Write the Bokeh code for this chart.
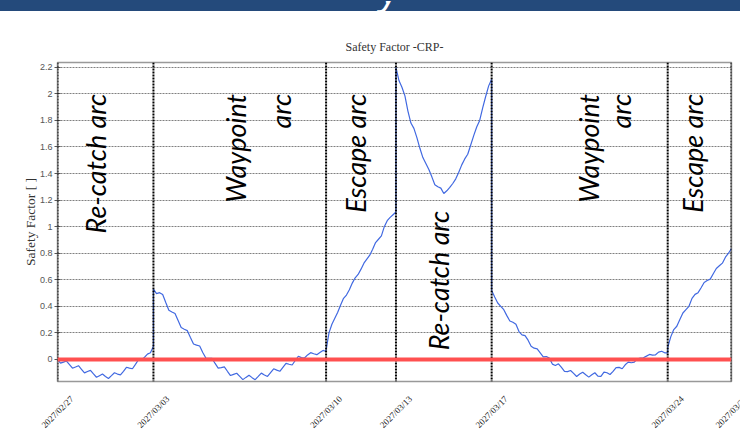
import numpy as np
from bokeh.plotting import figure
from bokeh.models import Range1d, FixedTicker, Span, Div
from bokeh.layouts import column
from bokeh.core.properties import value
from bokeh.embed import file_html
from bokeh.resources import INLINE

# ---------------- data ----------------
# arc boundaries, in days since 2027/02/27 00:00
arc_bounds = [0.0, 3.94, 11.03, 13.90, 17.83, 25.06, 27.68]
bound_labels = ["2027/02/27", "2027/03/03", "2027/03/10", "2027/03/13",
                "2027/03/17", "2027/03/24", "2027/03/26"]

y_ticks = [0, 0.2, 0.4, 0.6, 0.8, 1, 1.2, 1.4, 1.6, 1.8, 2, 2.2]
y_tick_labels = ["0", "0.2", "0.4", "0.6", "0.8", "1", "1.2", "1.4", "1.6", "1.8", "2", "2.2"]

# safety factor per arc (evenly sampled inside each arc)
sf_recatch_1 = [0.000, -0.028, -0.020, -0.012, -0.039, -0.066, -0.057, -0.047, -0.074, -0.101,
                -0.091, -0.082, -0.109, -0.134, -0.122, -0.110, -0.128, -0.143, -0.122, -0.100,
                -0.110, -0.116, -0.089, -0.059, -0.065, -0.070, -0.037, -0.002, 0.000, 0.015,
                0.040, 0.050, 0.100]
sf_waypoint_1 = [0.530, 0.496, 0.503, 0.489, 0.429, 0.371, 0.358, 0.346, 0.293, 0.240,
                 0.228, 0.217, 0.165, 0.116, 0.108, 0.101, 0.053, 0.011, 0.009, 0.008,
                 -0.030, -0.065, -0.061, -0.056, -0.089, -0.121, -0.112, -0.104, -0.128, -0.152,
                 -0.135, -0.119, -0.137, -0.152, -0.128, -0.103, -0.117, -0.128, -0.099, -0.070,
                 -0.080, -0.089, -0.059, -0.029, -0.036, -0.042, -0.008, 0.024, 0.014, 0.011,
                 0.034, 0.051, 0.043, 0.036, 0.052, 0.068, 0.060]
sf_escape_1 = [0.07, 0.20, 0.265, 0.31, 0.355, 0.41, 0.46, 0.485, 0.525, 0.575,
               0.615, 0.64, 0.68, 0.725, 0.755, 0.785, 0.83, 0.88, 0.905, 0.93,
               1.00, 1.045, 1.07, 1.09, 1.11]
sf_recatch_2 = [2.20, 2.10, 2.05, 1.985, 1.87, 1.78, 1.74, 1.67, 1.59, 1.52,
                1.475, 1.43, 1.375, 1.315, 1.30, 1.29, 1.25, 1.27, 1.295, 1.325,
                1.36, 1.41, 1.465, 1.51, 1.545, 1.615, 1.685, 1.75, 1.80, 1.895,
                1.98, 2.06, 2.11]
sf_waypoint_2 = [0.52, 0.47, 0.425, 0.40, 0.375, 0.33, 0.29, 0.28, 0.265, 0.21,
                 0.185, 0.18, 0.145, 0.10, 0.085, 0.08, 0.05, 0.02, 0.022, 0.01,
                 -0.035, -0.045, -0.033, -0.06, -0.09, -0.092, -0.083, -0.105, -0.128, -0.11,
                 -0.096, -0.115, -0.133, -0.115, -0.10, -0.125, -0.128, -0.095, -0.10, -0.113,
                 -0.09, -0.062, -0.06, -0.07, -0.04, -0.02, -0.025, -0.02, 0.005, 0.01,
                 0.013, 0.025, 0.038, 0.032, 0.035, 0.055, 0.062, 0.05, 0.05]
sf_escape_2 = [0.09, 0.17, 0.225, 0.25, 0.30, 0.35, 0.375, 0.40, 0.46, 0.49,
               0.503, 0.54, 0.58, 0.595, 0.605, 0.645, 0.685, 0.705, 0.725, 0.77,
               0.80, 0.835]

segments = [sf_recatch_1, sf_waypoint_1, sf_escape_1, sf_recatch_2, sf_waypoint_2, sf_escape_2]

arc_texts = ["Re-catch arc", "Waypoint", "arc", "Escape arc", "Re-catch arc", "Waypoint", "arc", "Escape arc"]
# annotation anchors (day, safety factor) - rotated text ends here
arc_text_x = [1.56, 7.31, 9.16, 12.22, 15.65, 21.81, 23.12, 26.08]
arc_text_y = [2.0, 2.0, 2.0, 2.0, 1.12, 2.0, 2.0, 2.0]

# ---------------- build ----------------
X_START, X_END = 0.0, 27.68
LEFT, RIGHT = 57, 9
W = 740
px_per_day = (W - LEFT - RIGHT) / (X_END - X_START)

xs, ys = [], []
for i, seg in enumerate(segments):
    xs.extend(np.linspace(arc_bounds[i], arc_bounds[i + 1], len(seg)).tolist())
    ys.extend(seg)

p = figure(width=W, height=372, output_backend="svg", toolbar_location=None,
           x_range=Range1d(X_START, X_END), y_range=Range1d(-0.166, 2.236),
           x_axis_type=None,
           min_border_left=LEFT, min_border_right=RIGHT, min_border_top=51, min_border_bottom=2,
           background_fill_color="white", border_fill_color="white")

p.title.text = "Safety Factor -CRP-"
p.title.align = "center"
p.title.text_font = "Liberation Serif"
p.title.text_font_size = "12px"
p.title.text_font_style = "normal"
p.title.text_color = "#333333"
p.title.standoff = 18

p.outline_line_color = "#999999"
p.outline_line_width = 1.5

p.ygrid.ticker = FixedTicker(ticks=y_ticks)
p.ygrid.grid_line_color = "#808080"
p.ygrid.grid_line_dash = "2 1"
p.ygrid.grid_line_width = 1

p.yaxis.ticker = FixedTicker(ticks=y_ticks)
p.yaxis.major_label_overrides = dict(zip(y_ticks, y_tick_labels))
p.yaxis.major_label_text_font = "Liberation Sans"
p.yaxis.major_label_text_font_size = "9px"
p.yaxis.major_label_text_color = "#555555"
p.yaxis.major_label_standoff = 2
p.yaxis.major_tick_in = 3
p.yaxis.major_tick_out = 3
p.yaxis.major_tick_line_color = "#555555"
p.yaxis.minor_tick_line_color = None
p.yaxis.axis_line_color = None
p.yaxis.axis_label = "Safety Factor [ ]"
p.yaxis.axis_label_text_font = "Liberation Serif"
p.yaxis.axis_label_text_font_size = "13.5px"
p.yaxis.axis_label_text_font_style = "normal"
p.yaxis.axis_label_text_color = "#333333"
p.yaxis.axis_label_standoff = -1

p.line(xs, ys, line_color="#4169E1", line_width=1.2)

for b in arc_bounds:
    p.add_layout(Span(location=b, dimension="height", line_color="black",
                      line_width=2, line_dash="2 1"))

p.add_layout(Span(location=0, dimension="width", line_color="#FF5050", line_width=4))

p.text(x=arc_text_x, y=arc_text_y, text=arc_texts, angle=np.pi / 2,
       text_align="right", text_baseline="middle",
       text_font=value("Lato"), text_font_style="italic", text_font_size="26.9px",
       text_color="black")

# strip under the chart that carries the rotated date labels (same day scale)
lab = figure(width=W, height=48, output_backend="svg", toolbar_location=None,
             x_range=Range1d(X_START - LEFT / px_per_day, X_END + RIGHT / px_per_day),
             y_range=Range1d(0, 48), x_axis_type=None, y_axis_type=None,
             min_border=0, min_border_left=0, min_border_right=0,
             min_border_top=0, min_border_bottom=0, outline_line_color=None,
             background_fill_color="white", border_fill_color="white")
lab.xgrid.visible = False
lab.ygrid.visible = False
lab.text(x=arc_bounds, y=[19.5] * len(arc_bounds), text=bound_labels, angle=np.pi / 4,
         text_align="center", text_baseline="middle",
         text_font=value("Liberation Serif"), text_font_size="9px", text_color="#222222")

# do not let the column line up the two plot frames
for fig in (p, lab):
    try:
        fig.frame_align = False
    except Exception:
        pass

banner_html = ('<div style="position:relative;width:740px;height:11px;overflow:hidden;background:#244a7b">'
               '<span style="position:absolute;left:381px;top:-33px;font-family:\'Open Sans\';'
               'font-style:italic;font-weight:normal;font-size:40px;line-height:1;color:white">y</span></div>')
banner = Div(text=banner_html, width=W, height=11, margin=(0, 0, 0, 0),
             styles={"background-color": "#244a7b", "overflow": "hidden"})

layout = column(banner, p, lab, spacing=0, margin=(0, 0, 0, 0))

open("out.html", "w").write(file_html(layout, INLINE))
